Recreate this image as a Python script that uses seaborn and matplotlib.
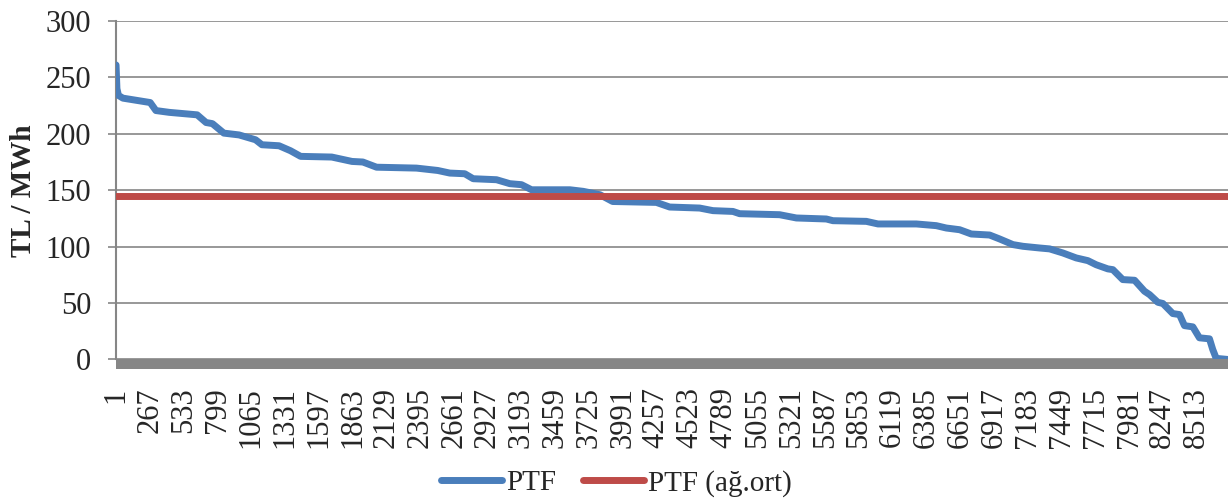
import matplotlib
matplotlib.use("Agg")
import matplotlib.pyplot as plt
from matplotlib.patches import Rectangle
import seaborn as sns
import pandas as pd

# Duration curve of PTF (hour rank -> TL/MWh)
hours = [1, 8, 20, 55, 270, 315, 420, 640, 710, 760, 850, 970, 1100, 1150, 1285,
         1375, 1455, 1700, 1860, 1945, 2053, 2368, 2535, 2630, 2748, 2814, 2998,
         3103, 3195, 3274, 3576, 3681, 3813, 3913, 4257, 4362, 4598, 4703, 4860,
         4913, 5228, 5360, 5596, 5648, 5911, 6003, 6305, 6462, 6541, 6646, 6738,
         6882, 6961, 7066, 7145, 7276, 7355, 7459, 7564, 7656, 7721, 7813, 7853,
         7931, 8024, 8102, 8142, 8207, 8247, 8325, 8378, 8417, 8483, 8535, 8614,
         8640, 8667, 8760]
ptf = [261, 240, 234, 231.6, 227.7, 220.6, 219, 216.8, 210, 209, 200.6, 199, 194.7,
       190.3, 189.4, 185, 180, 179.4, 175.5, 175, 170.4, 169.6, 167.5, 165.2, 164.6,
       160.2, 159.3, 155.8, 154.9, 150.4, 150.4, 149, 146, 140, 139.2, 135.1, 134.2,
       131.9, 131.2, 129.2, 128.3, 125.4, 124.5, 123, 122.4, 120.1, 120.1, 118.6,
       116.5, 115, 111.2, 110.3, 106.8, 101.8, 100.3, 98.8, 98, 94.4, 90, 87.6, 84,
       80.3, 79.6, 70.8, 70.2, 60.5, 57.5, 50.7, 49.6, 40.7, 39.8, 30, 28.9, 19.2,
       18.3, 8.8, 1, 0]
mean_hours = [1, 8760]
mean_vals = [144.5, 144.5]
x_ticks = list(range(1, 8761, 266))
y_ticks = [0, 50, 100, 150, 200, 250, 300]

sns.set_style("white")
plt.rcParams['font.family'] = ['Liberation Serif', 'DejaVu Serif']

fig, ax = plt.subplots(figsize=(12.28, 4.99), dpi=100)
fig.subplots_adjust(left=0.0945, right=1.0, top=0.958, bottom=0.2796)

grid_c = "#868686"
ax.set_axisbelow(True)
ax.grid(axis='y', color=grid_c, linewidth=1.2)

df1 = pd.DataFrame({"h": hours, "v": ptf})
df2 = pd.DataFrame({"h": mean_hours, "v": mean_vals})
sns.lineplot(data=df1, x="h", y="v", ax=ax, color="#4A7EBB", linewidth=4.4,
             label="PTF", solid_capstyle="round", solid_joinstyle="round", zorder=3)
sns.lineplot(data=df2, x="h", y="v", ax=ax, color="#BE4B48", linewidth=4.6,
             label="PTF (ağ.ort)", zorder=4)

ax.set_xlim(1, 8760)
ax.set_ylim(0, 300)
ax.set_yticks(y_ticks)
ax.set_xticks(x_ticks)
ax.set_xticklabels([str(t) for t in x_ticks], rotation=90)
ax.tick_params(axis='y', labelsize=22, length=6, width=1.2, color=grid_c, pad=12, left=True)
ax.tick_params(axis='x', labelsize=22, length=0, pad=20)
ax.set_xlabel("")
ax.set_ylabel("TL / MWh", fontsize=21, fontweight='bold', labelpad=6)

for s in ["top", "right", "bottom"]:
    ax.spines[s].set_visible(False)
ax.spines["left"].set_color(grid_c)
ax.spines["left"].set_linewidth(1.5)

# thick grey floor band under the zero line
band_h = 10 / (0.958 - 0.2796) / 499
ax.add_patch(Rectangle((0, -band_h), 1, band_h, transform=ax.transAxes,
                       facecolor=grid_c, edgecolor='none', clip_on=False, zorder=2))

ax.legend_.remove()
handles, labels = ax.get_legend_handles_labels()
for h in handles:
    h.set_linewidth(5)
fig.legend(handles, labels, loc='center', bbox_to_anchor=(0.502, 0.032), ncol=2,
           frameon=False, fontsize=21, handlelength=2.1, handletextpad=0.15,
           columnspacing=0.9)

fig.savefig("out.png", dpi=100)
